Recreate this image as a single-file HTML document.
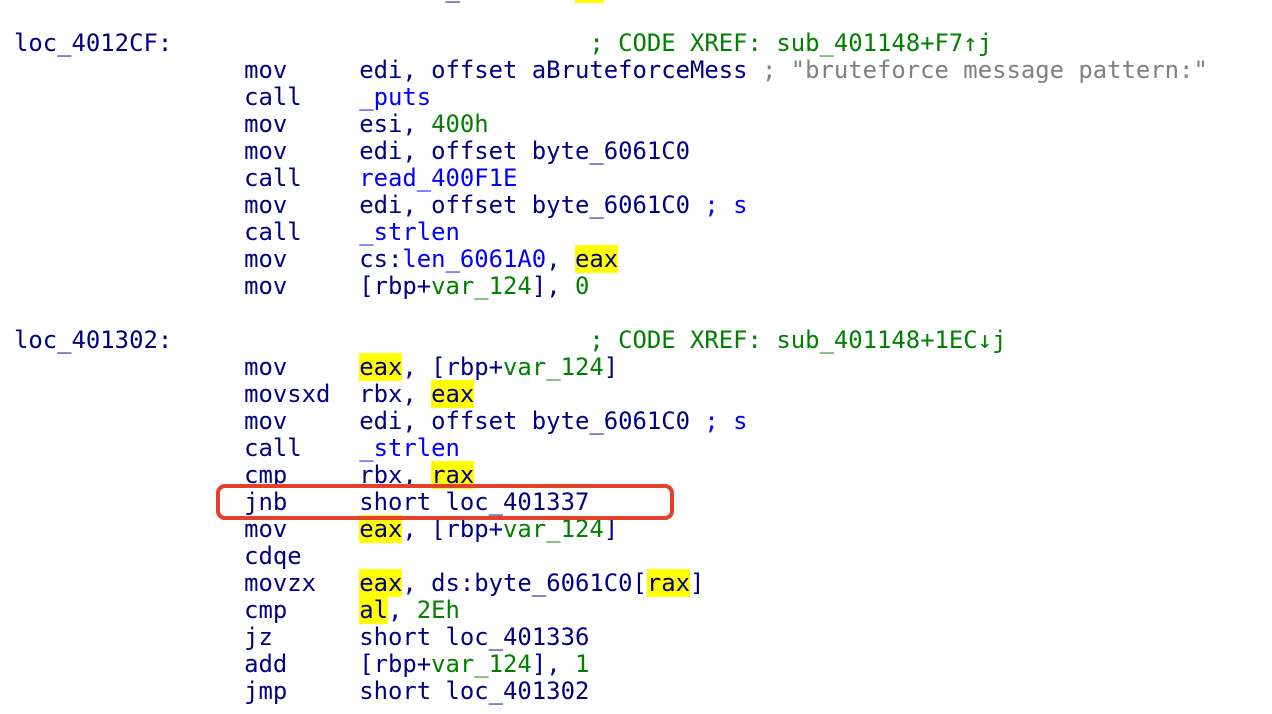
<!DOCTYPE html>
<html><head><meta charset="utf-8"><style>
html,body{margin:0;padding:0;background:#fff;width:1272px;height:714px;overflow:hidden}
pre{position:absolute;left:14px;top:-24px;margin:0;font-family:"DejaVu Sans Mono","Liberation Mono",monospace;font-size:23.9px;line-height:27px;color:#000080;letter-spacing:0}
.g{color:#008000}.b{color:#0000ff}.gr{color:#808080}.y{background:#ffff00}
#box{position:absolute;left:216px;top:484px;width:450px;height:28px;border:4px solid #e4412c;border-radius:9px}
</style></head><body>
<pre>                              _        <span class="y">  </span>

loc_4012CF:                             <span class="g">; CODE XREF: sub_401148+F7↑j</span>
                mov     edi, offset aBruteforceMess <span class="gr">; "bruteforce message pattern:"</span>
                call    <span class="b">_puts</span>
                mov     esi, <span class="g">400h</span>
                mov     edi, offset byte_6061C0
                call    <span class="b">read_400F1E</span>
                mov     edi, offset byte_6061C0 <span class="b">; s</span>
                call    <span class="b">_strlen</span>
                mov     cs:<span class="b">len_6061A0</span>, <span class="y">eax</span>
                mov     [rbp+<span class="g">var_124</span>], <span class="g">0</span>

loc_401302:                             <span class="g">; CODE XREF: sub_401148+1EC↓j</span>
                mov     <span class="y">eax</span>, [rbp+<span class="g">var_124</span>]
                movsxd  rbx, <span class="y">eax</span>
                mov     edi, offset byte_6061C0 <span class="b">; s</span>
                call    <span class="b">_strlen</span>
                cmp     rbx, <span class="y">rax</span>
                jnb     short loc_401337
                mov     <span class="y">eax</span>, [rbp+<span class="g">var_124</span>]
                cdqe
                movzx   <span class="y">eax</span>, ds:byte_6061C0[<span class="y">rax</span>]
                cmp     <span class="y">al</span>, <span class="g">2Eh</span>
                jz      short loc_401336
                add     [rbp+<span class="g">var_124</span>], <span class="g">1</span>
                jmp     short loc_401302
</pre>
<div id="box"></div>
</body></html>
